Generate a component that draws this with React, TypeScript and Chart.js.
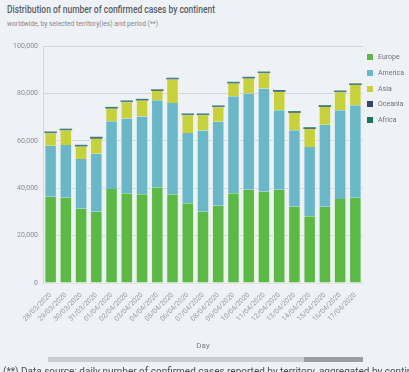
import React, { useEffect, useRef } from "react";
import { Chart, registerables } from "chart.js";

Chart.register(...registerables);

const days = [
  "28/03/2020", "29/03/2020", "30/03/2020", "31/03/2020", "01/04/2020", "02/04/2020", "03/04/2020",
  "04/04/2020", "05/04/2020", "06/04/2020", "07/04/2020", "08/04/2020", "09/04/2020", "10/04/2020",
  "11/04/2020", "12/04/2020", "13/04/2020", "14/04/2020", "15/04/2020", "16/04/2020", "17/04/2020",
];

const europe = [36400, 36000, 31300, 30100, 39700, 37900, 37400, 40400, 37400, 33600, 30100, 32600, 37900, 39300, 38500, 39300, 32200, 28200, 32200, 35400, 36000];
const america = [21500, 22200, 21000, 24400, 28500, 31500, 32900, 36700, 38600, 29700, 34200, 35400, 40900, 40700, 43600, 33600, 32200, 29200, 34600, 37500, 39000];
const asia = [5300, 6200, 5300, 6400, 5400, 6900, 6700, 3900, 9900, 7500, 6500, 6200, 5400, 6300, 6400, 7800, 7400, 7600, 7500, 7600, 8500];
const oceania = [300, 300, 300, 350, 300, 300, 300, 300, 300, 300, 300, 300, 300, 300, 300, 300, 300, 300, 300, 300, 300];
const africa = [400, 400, 400, 450, 400, 400, 400, 400, 400, 400, 400, 400, 400, 400, 400, 400, 400, 400, 400, 400, 400];

const seriesNames = ["Europe", "America", "Asia", "Oceania", "Africa"];
const seriesColors = ["#5cb946", "#6ab7c8", "#c6d13b", "#2d4869", "#17785e"];
const seriesBorders = ["#e2f3dc", "#e0f1f5", "#f1f4d8", "#2d4869", "#17785e"];
const yTicks = [0, 20000, 40000, 60000, 80000, 100000];

const titleText = "Distribution of number of confirmed cases by continent";
const subtitleText = "worldwide, by selected territory(ies) and period (**)";

const BG = "#eef1f5";
const FONT = "Roboto, 'Liberation Sans', sans-serif";

function Fitted({ text, width, style }: { text: string; width: number; style: React.CSSProperties }) {
  const r = useRef<HTMLSpanElement | null>(null);
  useEffect(() => {
    const el = r.current;
    if (!el) return;
    el.style.transform = "none";
    const w = el.getBoundingClientRect().width;
    if (w > 0) el.style.transform = `scaleX(${width / w})`;
  }, [text, width]);
  return (
    <span ref={r} style={{ ...style, position: "absolute", whiteSpace: "nowrap", transformOrigin: "left top", display: "inline-block" }}>
      {text}
    </span>
  );
}

export default function App() {
  const ref = useRef<HTMLCanvasElement | null>(null);

  useEffect(() => {
    document.body.style.margin = "0";
    const values = [europe, america, asia, oceania, africa];
    const chart = new Chart(ref.current as HTMLCanvasElement, {
      type: "bar",
      data: {
        labels: days,
        datasets: seriesNames.map((name, i) => ({
          label: name,
          data: values[i],
          backgroundColor: seriesColors[i],
          borderColor: seriesBorders[i],
          borderWidth: i < 3 ? { left: 1, right: 1, top: 0, bottom: 0 } : 0,
          borderSkipped: false,
          categoryPercentage: 1,
          barPercentage: 0.82,
        })),
      },
      options: {
        animation: false,
        responsive: false,
        maintainAspectRatio: false,
        layout: { padding: { left: 5, right: 46, top: 46, bottom: 17 } },
        plugins: {
          legend: { display: false },
          tooltip: { enabled: false },
          title: { display: false },
        },
        scales: {
          x: {
            stacked: true,
            grid: { display: false },
            border: { color: "#dfe8d8" },
            ticks: {
              minRotation: 45,
              maxRotation: 45,
              autoSkip: false,
              color: "#9a9fa5",
              font: { size: 7, family: FONT },
              padding: 0,
            },
            title: {
              display: true,
              text: "Day",
              color: "#7a7f85",
              font: { size: 8, family: FONT },
              padding: { top: 2, bottom: 4 },
            },
            afterFit: (s: any) => {
              s.height = 72;
            },
          },
          y: {
            stacked: true,
            min: 0,
            max: 100000,
            afterBuildTicks: (s: any) => {
              s.ticks = yTicks.map((v) => ({ value: v }));
            },
            grid: { color: "#d3d7db", lineWidth: 1, drawTicks: false },
            border: { color: "#d3d7db" },
            ticks: {
              color: "#8a8f95",
              font: { size: 7, family: FONT },
              padding: 5,
              callback: (v: any) => Number(v).toLocaleString("en-US"),
            },
            afterFit: (s: any) => {
              s.width = 38;
            },
          },
        },
      },
    });
    return () => chart.destroy();
  }, []);

  return (
    <div
      style={{
        position: "relative",
        width: 409,
        height: 372,
        background: BG,
        overflow: "hidden",
        fontFamily: FONT,
      }}
    >
      <Fitted text={titleText} width={208} style={{ left: 7, top: 2, fontSize: 11.5, fontWeight: 500, color: "#5a5f66" }} />
      <Fitted text={subtitleText} width={151} style={{ left: 7, top: 20, fontSize: 7, color: "#85898f" }} />
      <canvas ref={ref} width={409} height={372} style={{ position: "absolute", left: 0, top: 0 }} />
      {seriesNames.map((name, i) => (
        <div
          key={name}
          style={{ position: "absolute", left: 367, top: 53 + i * 15.8, display: "flex", alignItems: "center", fontSize: 7, color: "#6e737a" }}
        >
          <span style={{ display: "inline-block", width: 6, height: 6, background: seriesColors[i], marginRight: 5 }} />
          {name}
        </div>
      ))}
      <div style={{ position: "absolute", left: 48, top: 357, width: 315, height: 5, background: "#c9cdd1" }} />
      <div style={{ position: "absolute", left: 304, top: 357, width: 59, height: 5, background: "#9b9fa3" }} />
      <div style={{ position: "absolute", left: 3, top: 366, fontSize: 10, color: "#4a4f55", whiteSpace: "nowrap" }}>
        (**) Data source: daily number of confirmed cases reported by territory, aggregated by continent
      </div>
    </div>
  );
}
